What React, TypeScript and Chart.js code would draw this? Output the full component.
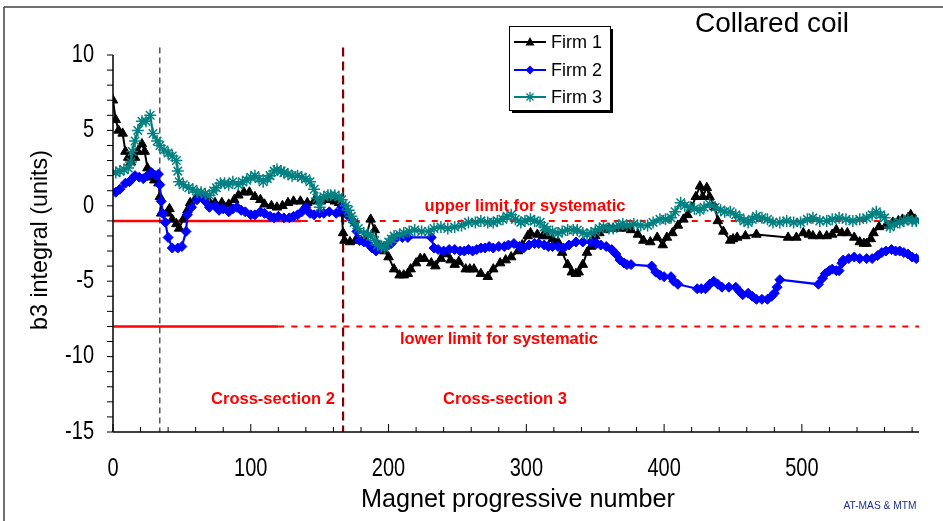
import React, { useEffect, useRef } from 'react';
import { Chart, registerables } from 'chart.js';

Chart.register(...registerables);

// ---------- data ----------
const firm1X = [
  0, 2, 4, 7, 9, 11, 13, 16, 18, 21,
  23, 25, 26, 30, 33, 34, 35, 39, 41, 43,
  46, 48, 51, 54, 56, 60, 64, 69, 74, 79,
  84, 88, 91, 95, 99, 103, 107, 110, 115, 119,
  123, 127, 131, 136, 141, 146, 151, 156, 161, 164,
  166, 167, 168, 172, 176, 180, 183, 187, 190, 193,
  197, 200, 204, 208, 211, 214, 216, 220, 223, 226,
  231, 234, 238, 242, 245, 248, 251, 256, 259, 262,
  267, 272, 276, 281, 285, 289, 294, 297, 301, 303,
  308, 312, 315, 319, 323, 326, 330, 333, 336, 338,
  341, 344, 347, 350, 353, 356, 360, 363, 367, 370,
  373, 376, 381, 385, 390, 395, 399, 402, 406, 410,
  414, 417, 420, 423, 426, 428, 431, 433, 437, 439,
  443, 448, 450, 453, 459, 467, 490, 496, 501, 505,
  508, 513, 518, 522, 525, 529, 533, 538, 542, 545,
  547, 550, 552, 556, 561, 566, 570, 573, 577, 579,
  582,
];
const firm1Y = [
  7.0, 5.7, 5.0, 4.8, 3.6, 3.2, 2.9, 3.2, 3.6, 4.1,
  3.6, 2.5, 1.9, 1.7, 1.5, 0.6, -0.5, -0.5, -0.2, -0.9,
  -1.2, -1.5, -0.9, -0.3, 0.2, 0.5, 0.5, 0.4, 0.2, 0.2,
  0.1, 0.4, 0.7, 0.9, 0.9, 0.6, 0.4, 0.1, 0.0, -0.1,
  0.0, 0.2, 0.3, 0.3, 0.2, 0.3, 0.3, 0.4, 0.3, 0.2,
  -0.5, -1.8, -2.3, -2.4, -2.3, -2.3, -2.3, -0.9, -1.6, -2.7,
  -3.0, -3.4, -4.2, -4.6, -4.6, -4.5, -4.2, -3.8, -3.5, -3.5,
  -3.8, -4.0, -3.5, -3.2, -3.6, -3.9, -3.7, -4.2, -4.2, -4.2,
  -4.5, -4.7, -4.2, -3.8, -3.6, -3.4, -3.0, -2.6, -2.0, -1.8,
  -1.9, -2.0, -2.0, -2.2, -2.4, -3.1, -3.9, -4.4, -4.5, -4.4,
  -3.9, -3.1, -2.7, -2.0, -1.8, -1.6, -1.5, -1.5, -1.5, -1.4,
  -1.5, -1.6, -1.9, -2.3, -2.4, -2.1, -2.6, -2.1, -1.8, -1.3,
  -0.9, -0.6, -0.1, 0.6, 1.3, 0.6, 1.2, 0.6, -0.1, -1.0,
  -1.7, -2.3, -2.2, -2.1, -2.0, -1.9, -2.1, -2.1, -1.8, -1.9,
  -2.0, -2.0, -2.0, -1.9, -1.6, -1.8, -1.8, -2.1, -2.4, -2.5,
  -2.5, -2.2, -1.8, -1.4, -1.3, -1.1, -1.0, -0.9, -0.8, -0.6,
  -0.9,
];

const firm2X = [
  2, 5, 9, 12, 14, 16, 19, 22, 25, 28,
  31, 33, 34, 35, 36, 38, 40, 43, 47, 50,
  53, 54, 57, 61, 64, 67, 70, 74, 77, 80,
  84, 87, 90, 93, 96, 100, 103, 107, 110, 114,
  117, 120, 124, 128, 131, 134, 137, 140, 143, 146,
  150, 153, 157, 162, 166, 168, 171, 175, 177, 179,
  182, 185, 188, 191, 194, 197, 200, 202, 206, 210,
  214, 231, 233, 236, 240, 244, 248, 252, 255, 258,
  261, 264, 267, 270, 273, 276, 280, 284, 287, 291,
  295, 298, 302, 306, 309, 313, 316, 319, 323, 327,
  331, 336, 341, 347, 351, 354, 358, 362, 365, 368,
  371, 373, 376, 391, 394, 397, 400, 405, 407, 410,
  424, 427, 430, 433, 436, 439, 442, 447, 452, 455,
  457, 461, 464, 467, 471, 475, 478, 480, 482, 484,
  512, 515, 517, 520, 522, 525, 527, 529, 530, 534,
  538, 542, 547, 551, 555, 558, 561, 565, 568, 571,
  574, 577, 580, 583,
];
const firm2Y = [
  0.9, 1.1, 1.5, 1.6, 1.8, 2.0, 1.9, 1.8, 2.0, 2.2,
  2.0, 2.1, 1.4, 0.3, -0.5, -1.1, -2.1, -2.8, -2.8, -2.7,
  -1.7, -0.6, -0.1, 0.4, 0.6, 0.3, -0.1, 0.0, -0.3, -0.2,
  -0.4, -0.2, -0.1, -0.3, -0.4, -0.6, -0.6, -0.4, -0.5, -0.7,
  -0.8, -0.7, -0.8, -0.8, -0.7, -0.6, -0.4, -0.1, -0.5, -0.6,
  -0.5, -0.5, -0.4, -0.5, -0.1, -0.3, -0.7, -1.1, -1.7, -2.3,
  -2.4, -2.5, -2.8, -3.0, -2.8, -2.7, -2.6, -2.5, -2.1, -2.1,
  -2.1, -2.1, -2.8, -2.9, -3.0, -2.9, -2.9, -3.0, -3.0, -2.9,
  -3.0, -2.9, -2.8, -2.8, -2.7, -2.8, -2.7, -2.7, -2.6, -2.5,
  -2.7, -2.8, -2.6, -2.5, -2.5, -2.6, -2.7, -2.7, -2.7, -2.8,
  -2.6, -2.4, -2.4, -2.4, -2.5, -2.6, -2.7, -2.9, -3.2, -3.6,
  -3.8, -3.9, -3.9, -4.0, -4.4, -4.6, -4.7, -4.7, -5.0, -5.2,
  -5.5, -5.5, -5.5, -5.2, -5.0, -5.2, -5.4, -5.4, -5.4, -5.7,
  -5.9, -5.8, -6.0, -6.2, -6.2, -6.2, -6.0, -5.8, -5.4, -4.9,
  -5.2, -4.8, -4.5, -4.3, -4.2, -4.3, -4.3, -3.8, -3.6, -3.5,
  -3.4, -3.5, -3.5, -3.5, -3.3, -3.1, -3.0, -2.9, -3.0, -3.0,
  -3.1, -3.2, -3.4, -3.5,
];

const firm3X = [
  2, 5, 8, 11, 13, 14, 16, 18, 21, 24,
  27, 29, 32, 34, 37, 40, 43, 46, 47, 48,
  51, 55, 58, 61, 64, 67, 70, 73, 75, 78,
  81, 84, 87, 91, 94, 97, 100, 103, 106, 109,
  112, 114, 117, 119, 122, 124, 127, 130, 134, 137,
  140, 143, 146, 148, 150, 153, 156, 158, 161, 164,
  166, 169, 171, 173, 175, 178, 182, 185, 187, 190,
  192, 195, 197, 200, 202, 204, 208, 211, 215, 219,
  224, 229, 233, 238, 243, 248, 253, 258, 263, 267,
  272, 276, 279, 283, 286, 289, 292, 296, 299, 303,
  306, 310, 313, 315, 319, 323, 326, 330, 334, 337,
  341, 344, 347, 350, 353, 356, 360, 363, 367, 370,
  373, 378, 383, 388, 392, 397, 401, 405, 408, 412,
  415, 419, 422, 426, 429, 433, 437, 441, 444, 448,
  452, 455, 458, 461, 464, 467, 471, 475, 479, 484,
  489, 494, 499, 504, 508, 513, 518, 522, 527, 532,
  537, 542, 547, 551, 554, 557, 560, 564, 567, 571,
  574, 577, 580, 583,
];
const firm3Y = [
  2.2, 2.3, 2.4, 2.5, 2.9, 3.6, 4.3, 5.0, 5.6, 5.6,
  6.0, 4.8, 4.3, 4.0, 3.7, 3.5, 3.3, 3.0, 2.3, 1.6,
  1.4, 1.2, 1.1, 0.9, 0.9, 0.8, 0.7, 1.0, 1.2, 1.5,
  1.5, 1.4, 1.6, 1.4, 1.6, 1.7, 1.9, 2.0, 1.8, 1.6,
  1.8, 2.0, 2.3, 2.4, 2.3, 2.2, 2.1, 2.0, 2.0, 1.9,
  1.8, 1.6, 1.1, 0.5, -0.1, 0.6, 0.7, 0.7, 0.7, 0.6,
  0.4, 0.0, -0.3, -0.7, -1.1, -1.5, -1.8, -1.9, -2.0, -2.3,
  -2.6, -2.7, -2.8, -2.4, -2.2, -2.0, -1.9, -1.8, -1.7, -1.6,
  -1.7, -1.7, -1.5, -1.4, -1.5, -1.4, -1.3, -1.1, -1.1, -1.0,
  -1.1, -1.1, -1.0, -0.9, -0.7, -0.6, -0.9, -1.1, -1.0, -0.9,
  -1.0, -1.1, -1.4, -1.6, -1.7, -1.8, -1.7, -1.6, -1.6, -1.6,
  -1.8, -1.9, -1.8, -1.7, -1.5, -1.4, -1.5, -1.5, -1.3, -1.2,
  -1.3, -1.2, -1.3, -1.3, -1.1, -0.9, -0.9, -0.8, -0.4, 0.2,
  0.0, -0.1, -0.2, -0.3, -0.1, 0.1, -0.1, -0.3, -0.4, -0.4,
  -0.6, -0.8, -1.0, -1.1, -0.9, -0.7, -0.8, -0.9, -1.1, -1.1,
  -1.0, -1.1, -1.1, -0.9, -0.8, -1.0, -1.0, -0.9, -0.8, -0.9,
  -1.0, -0.9, -0.8, -0.6, -0.4, -0.6, -0.8, -1.4, -1.2, -1.1,
  -1.0, -0.9, -1.0, -1.0,
];

const seriesNames = ['Firm 1', 'Firm 2', 'Firm 3'];
const yTickValues = [10, 5, 0, -5, -10, -15];
const xTickValues = [0, 100, 200, 300, 400, 500];
const upperLimit = -1;
const lowerLimit = -8;
const upperSolidEnd = 137;
const lowerSolidEnd = 120;
const sectionBoundary1 = 34;
const sectionBoundary2 = 167;

// ---------- styling ----------
const FONT = '"Liberation Sans", Arial, Helvetica, sans-serif';
const BLACK = '#000000';
const BLUE = '#0000ff';
const TEAL = '#008080';
const RED = '#ff0000';
const DARKRED = '#7f0000';

function drawText(
  ctx: CanvasRenderingContext2D,
  s: string,
  x: number,
  y: number,
  font: string,
  color: string,
  align: CanvasTextAlign,
  sx = 1,
  rot = 0
) {
  ctx.save();
  ctx.translate(x, y);
  if (rot) ctx.rotate(rot);
  ctx.scale(sx, 1);
  ctx.font = font;
  ctx.fillStyle = color;
  ctx.textAlign = align;
  ctx.textBaseline = 'middle';
  ctx.fillText(s, 0, 0);
  ctx.restore();
}

function seg(
  ctx: CanvasRenderingContext2D,
  x1: number,
  y1: number,
  x2: number,
  y2: number,
  color: string,
  w: number,
  dash: number[] = []
) {
  ctx.save();
  ctx.beginPath();
  ctx.setLineDash(dash);
  ctx.strokeStyle = color;
  ctx.lineWidth = w;
  ctx.moveTo(x1, y1);
  ctx.lineTo(x2, y2);
  ctx.stroke();
  ctx.restore();
}

function marker(ctx: CanvasRenderingContext2D, kind: number, x: number, y: number) {
  ctx.save();
  if (kind === 0) {
    ctx.fillStyle = BLACK;
    ctx.beginPath();
    ctx.moveTo(x, y - 5);
    ctx.lineTo(x + 4.5, y + 3.5);
    ctx.lineTo(x - 4.5, y + 3.5);
    ctx.closePath();
    ctx.fill();
  } else if (kind === 1) {
    ctx.fillStyle = BLUE;
    ctx.beginPath();
    ctx.moveTo(x, y - 4.5);
    ctx.lineTo(x + 4.5, y);
    ctx.lineTo(x, y + 4.5);
    ctx.lineTo(x - 4.5, y);
    ctx.closePath();
    ctx.fill();
  } else {
    ctx.strokeStyle = TEAL;
    ctx.lineWidth = 1.3;
    ctx.beginPath();
    const r = 5;
    for (let i = 0; i < 4; i++) {
      const a = (i * Math.PI) / 4;
      ctx.moveTo(x - r * Math.cos(a), y - r * Math.sin(a));
      ctx.lineTo(x + r * Math.cos(a), y + r * Math.sin(a));
    }
    ctx.stroke();
  }
  ctx.restore();
}

const annotations = {
  id: 'annotations',
  beforeDatasetsDraw(chart: any) {
    const { ctx, chartArea: ca, scales } = chart;
    const xs = scales.x;
    const ys = scales.y;
    // limit lines
    const uy = ys.getPixelForValue(upperLimit);
    const ux = xs.getPixelForValue(upperSolidEnd);
    seg(ctx, ca.left, uy, ux, uy, RED, 2.5);
    seg(ctx, ux, uy, ca.right, uy, RED, 2, [6, 7]);
    const ly = ys.getPixelForValue(lowerLimit);
    const lx = xs.getPixelForValue(lowerSolidEnd);
    seg(ctx, ca.left, ly, lx, ly, RED, 2.5);
    seg(ctx, lx, ly, ca.right, ly, RED, 2, [6, 7]);
    // section boundaries
    const topY = ys.getPixelForValue(10.5);
    const b1 = xs.getPixelForValue(sectionBoundary1);
    seg(ctx, b1, topY, b1, ca.bottom, BLACK, 1, [6, 4]);
    const b2 = xs.getPixelForValue(sectionBoundary2);
    seg(ctx, b2, topY, b2, ca.bottom, DARKRED, 2.2, [9, 5]);
  },
  afterDraw(chart: any) {
    const { ctx, chartArea: ca, scales } = chart;
    const xs = scales.x;
    const ys = scales.y;

    // outer frame
    seg(ctx, 4, 7, 943, 7, '#404040', 1.5);
    seg(ctx, 4, 7, 4, 521, '#404040', 1.5);

    // axis lines
    seg(ctx, ca.left, ca.top, ca.left, ca.bottom, BLACK, 1.5);
    seg(ctx, ca.left, ca.bottom, ca.right, ca.bottom, BLACK, 1.5);

    // y ticks (every 1 unit, outward)
    for (let v = -15; v <= 10; v++) {
      const py = ys.getPixelForValue(v);
      seg(ctx, ca.left - 6, py, ca.left, py, BLACK, 1);
    }
    // x ticks (every 20, inward)
    for (let v = 0; v <= 580; v += 20) {
      const px = xs.getPixelForValue(v);
      const len = v % 100 === 0 ? 8 : 5;
      seg(ctx, px, ca.bottom, px, ca.bottom - len, BLACK, 1);
    }
    // tick labels
    const tickFont = `25px ${FONT}`;
    for (const v of yTickValues) {
      drawText(ctx, String(v), 94, ys.getPixelForValue(v), tickFont, BLACK, 'right', 0.8);
    }
    for (const v of xTickValues) {
      drawText(ctx, String(v), xs.getPixelForValue(v), 469, tickFont, BLACK, 'center', 0.8);
    }

    // axis titles
    drawText(ctx, 'b3 integral (units)', 40, 240, `24px ${FONT}`, BLACK, 'center', 0.97, -Math.PI / 2);
    drawText(ctx, 'Magnet progressive number', 518, 500, `26px ${FONT}`, BLACK, 'center', 0.97);
    drawText(ctx, 'Collared coil', 772, 24, `28px ${FONT}`, BLACK, 'center', 1);
    drawText(ctx, 'AT-MAS & MTM', 880, 506, `11px ${FONT}`, '#1f2f8f', 'center', 0.93);

    // annotation texts
    const bold = `bold 16.5px ${FONT}`;
    drawText(ctx, 'upper limit for systematic', 525, 206, bold, RED, 'center', 1);
    drawText(ctx, 'lower limit for systematic', 499, 339, bold, RED, 'center', 1);
    drawText(ctx, 'Cross-section 2', 273, 399, bold, RED, 'center', 1);
    drawText(ctx, 'Cross-section 3', 505, 399, bold, RED, 'center', 1);

    // legend
    const bx = 509, by = 26, bw = 101, bh = 84;
    ctx.save();
    ctx.fillStyle = BLACK;
    ctx.fillRect(bx + 3, by + 3, bw, bh);
    ctx.fillStyle = '#ffffff';
    ctx.fillRect(bx, by, bw, bh);
    ctx.strokeStyle = BLACK;
    ctx.lineWidth = 1;
    ctx.strokeRect(bx + 0.5, by + 0.5, bw, bh);
    ctx.restore();
    const rows = [42, 70, 97];
    const colors = [BLACK, BLUE, TEAL];
    rows.forEach((ry, i) => {
      seg(ctx, 514, ry, 546, ry, colors[i], 2);
      marker(ctx, i, 530, ry);
      drawText(ctx, seriesNames[i], 551, ry + 1, `19px ${FONT}`, BLACK, 'left', 0.95);
    });
  },
};

function pts(xs: number[], ys: number[]) {
  return xs.map((x, i) => ({ x, y: ys[i] }));
}

export default function App() {
  const ref = useRef<HTMLCanvasElement | null>(null);

  useEffect(() => {
    if (!ref.current) return;
    const chart = new Chart(ref.current, {
      type: 'line',
      data: {
        datasets: [
          {
            label: seriesNames[0],
            data: pts(firm1X, firm1Y),
            borderColor: BLACK,
            backgroundColor: BLACK,
            borderWidth: 2,
            pointStyle: 'triangle',
            pointRadius: 5.5,
            pointBorderWidth: 1,
            tension: 0,
            order: 3,
          },
          {
            label: seriesNames[1],
            data: pts(firm2X, firm2Y),
            borderColor: BLUE,
            backgroundColor: BLUE,
            borderWidth: 2.2,
            pointStyle: 'rectRot',
            pointRadius: 5,
            pointBorderWidth: 1,
            tension: 0,
            order: 2,
          },
          {
            label: seriesNames[2],
            data: pts(firm3X, firm3Y),
            borderColor: TEAL,
            backgroundColor: TEAL,
            borderWidth: 2.2,
            pointStyle: 'star',
            pointRadius: 6,
            pointBorderWidth: 1.5,
            tension: 0,
            order: 1,
          },
        ],
      },
      options: {
        animation: false,
        responsive: false,
        devicePixelRatio: 1,
        layout: { padding: { left: 0, right: 24, top: 55, bottom: 0 } },
        plugins: {
          legend: { display: false },
          tooltip: { enabled: false },
        },
        scales: {
          x: {
            type: 'linear',
            min: 0,
            max: 585,
            grid: { display: false },
            border: { display: false },
            ticks: { display: false },
            afterFit: (s: any) => {
              s.height = 89;
            },
          },
          y: {
            type: 'linear',
            min: -15,
            max: 10,
            grid: { display: false },
            border: { display: false },
            ticks: { display: false },
            afterFit: (s: any) => {
              s.width = 113;
            },
          },
        },
      },
      plugins: [annotations],
    } as any);
    return () => chart.destroy();
  }, []);

  return (
    <div style={{ position: 'absolute', left: 0, top: 0, width: 943, height: 521, background: '#fff' }}>
      <canvas ref={ref} width={943} height={521} style={{ display: 'block' }} />
    </div>
  );
}
